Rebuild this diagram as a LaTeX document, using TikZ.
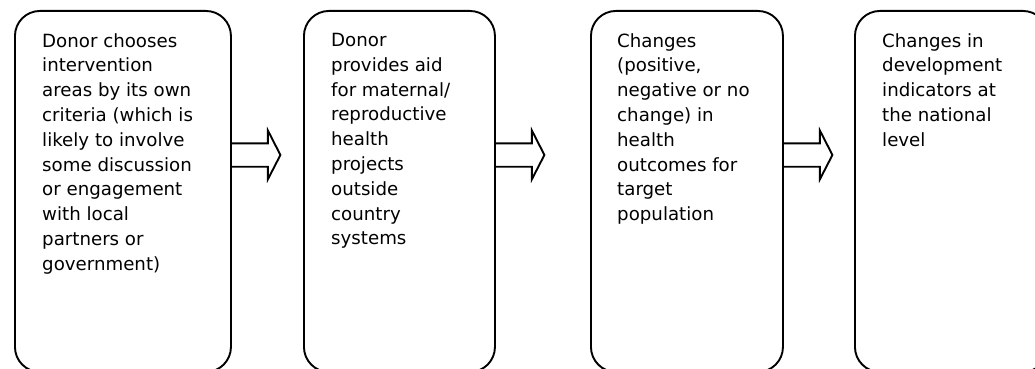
\documentclass[tikz,border=0pt]{standalone}
\usepackage{fontspec}
\setmainfont{DejaVu Sans}
\begin{document}
\begin{tikzpicture}[x=1pt,y=-1pt,
  box/.style={draw=black, line width=1.9pt, rounded corners=25pt, anchor=north west, inner sep=0pt, minimum height=361pt},
  boxtext/.style={anchor=north west, inner sep=0pt, align=left, font=\fontsize{18.2}{24.8}\selectfont},
  flowarrow/.style={draw=black, line width=1.9pt, line join=miter}]
\useasboundingbox (0,0) rectangle (1035,369);
\clip (0,0) rectangle (1035,369);
% boxes
\node[box, minimum width=216pt] (b1) at (14,10) {};
\node[box, minimum width=191pt] (b2) at (303,10) {};
\node[box, minimum width=192pt] (b3) at (590,10) {};
\node[box, minimum width=193pt] (b4) at (854,10) {};
% texts
\node[boxtext] (t1) at ([xshift=28pt,yshift=-23pt]b1.north west) {Donor chooses\\intervention\\areas by its own\\criteria (which is\\likely to involve\\some discussion\\or engagement\\with local\\partners or\\government)};
\node[boxtext] (t2) at ([xshift=28pt,yshift=-23pt]b2.north west) {Donor\\provides aid\\for maternal/\\reproductive\\health\\projects\\outside\\country\\systems};
\node[boxtext] (t3) at ([xshift=27pt,yshift=-23pt]b3.north west) {Changes\\(positive,\\negative or no\\change) in\\health\\outcomes for\\target\\population};
\node[boxtext] (t4) at ([xshift=28pt,yshift=-23pt]b4.north west) {Changes in\\development\\indicators at\\the national\\level};
% block arrows
\foreach \a in {b1, b2, b3}{
  \coordinate (s) at (\a.east |- 0,143.3);
  \draw[flowarrow] (s) -- ([xshift=36pt]s) -- ([xshift=36pt]\a.east |- 0,130.5)
     -- ([xshift=48.5pt]\a.east |- 0,155) -- ([xshift=36pt]\a.east |- 0,179.3)
     -- ([xshift=36pt]\a.east |- 0,166.7) -- (\a.east |- 0,166.7);
}
\end{tikzpicture}
\end{document}
